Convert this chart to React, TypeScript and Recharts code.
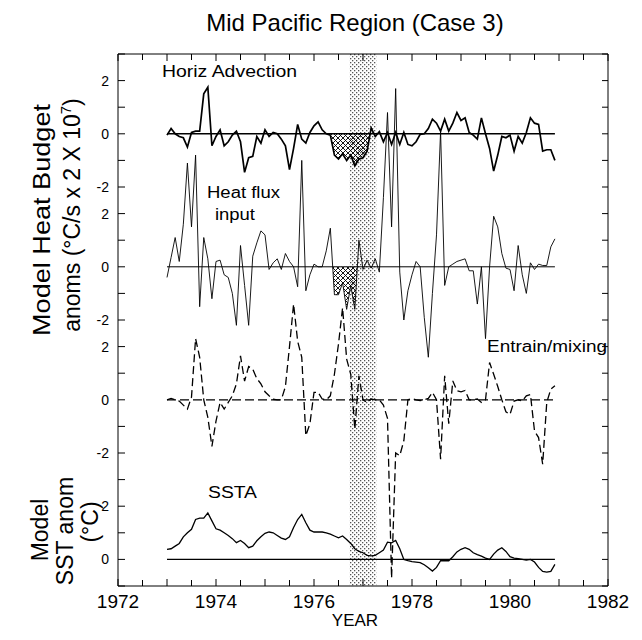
import React from 'react';
import { ComposedChart, Line, Area, XAxis, YAxis, ReferenceArea, ReferenceLine } from 'recharts';

// Monthly model heat budget anomalies, Jan 1973 .. Dec 1980
const START_YEAR = 1973;

const HORIZ_ADVECTION = [
  -0.05, 0.2, 0.0, -0.1, -0.15, -0.5, 0.05, 0.1, 0.1, 1.5,
  1.75, -0.45, -0.1, 0.15, -0.45, -0.3, -0.05, 0.1, -0.3, -1.45,
  -0.9, -0.85, -0.1, -0.35, 0.15, -0.1, 0.05, 0.0, -0.2, -0.45,
  -1.35, -0.55, 0.35, -0.2, -0.35, 0.05, 0.3, 0.45, 0.15, 0.0,
  -0.05, -0.8, -0.95, -0.75, -1.0, -0.8, -1.2, -0.95, -0.9, -0.65,
  0.22, -0.1, 0.08, -0.3, 0.05, -0.4, 0.05, -0.4, 0.05, -0.4,
  -0.45, -0.3, -0.02, 0.0, 0.2, 0.55, 0.4, 0.1, 0.55, 0.1,
  0.4, 0.8, 0.5, 0.6, 0.05, -0.05, -0.2, 0.6, 0.0, -0.55,
  -1.4, -0.8, -0.1, -0.15, -0.05, -0.65, -0.1, -0.35, 0.05, 0.6,
  0.4, 0.35, -0.65, -0.6, -0.6, -1.0,
];

const HEAT_FLUX = [
  -0.4, 0.35, 1.1, 0.2, 1.6, 3.9, 1.5, 4.2, -1.5, 1.1,
  0.3, -1.2, 0.2, 0.25, -0.3, -0.4, -1.0, -2.2, 0.8, -0.7,
  -2.2, 0.4, 0.9, 1.35, 1.2, -0.1, 0.15, 0.3, -0.1, 0.5,
  0.2, 0.0, -0.75, 4.0, -0.9, -0.3, 0.1, 0.0, 0.0, 0.6,
  1.45, -1.05, -1.05, -0.6, -1.6, -0.7, -1.6, 1.0, -0.1, 0.25,
  -0.05, 0.3, -0.2, 2.6, 5.8, 1.5, 6.7, -0.2, -2.0, -0.9,
  -0.3, 0.2, 0.0, -1.9, -3.4, -1.0, 1.2, 5.1, -0.7, 0.0,
  0.1, 0.2, 0.25, 0.3, -0.15, -0.15, -1.4, 0.0, -2.7, 0.0,
  1.9, 1.5, 0.5, -0.05, -0.1, -0.9, 0.8, -0.3, -1.0, 0.15,
  -0.1, 0.1, 0.05, 0.05, 0.75, 1.05,
];

const ENTRAIN_MIXING = [
  0.0, 0.05, 0.0, -0.05, -0.2, -0.35, 0.1, 2.3, 1.6, 0.0,
  -0.66, -1.75, -0.8, -0.1, -0.35, -0.1, 0.15, 0.6, 1.65, 0.7,
  1.25, 1.15, 0.8, 0.6, 0.3, 0.15, 0.02, 0.0, 0.0, 0.5,
  2.0, 3.6, 2.2, 1.6, -1.35, -0.9, 0.28, 0.28, 0.03, 0.0,
  0.15, 0.96, 2.1, 3.46, 1.53, 0.96, -1.1, 0.9, 0.0, -0.1,
  0.03, 0.0, 0.0, -0.2, -0.7, -6.7, -2.0, -2.1, -1.54, 0.0,
  0.05, 0.0, -0.03, 0.0, 0.05, 0.28, 0.0, -2.23, 0.9, -0.9,
  0.71, 0.34, 0.3, 0.35, 0.0, 0.0, 0.03, -0.1, 0.0, 1.4,
  0.96, 0.5, 0.0, -0.45, -0.55, -0.05, 0.0, -0.05, 0.15, 0.2,
  -1.17, -1.42, -2.42, -0.1, 0.4, 0.53,
];

const SSTA = [
  0.38, 0.4, 0.5, 0.6, 0.85, 1.0, 1.13, 1.5, 1.55, 1.55,
  1.75, 1.45, 1.15, 1.1, 1.0, 0.9, 0.78, 0.63, 0.71, 0.6,
  0.44, 0.5, 0.7, 0.85, 0.98, 1.03, 1.0, 0.9, 0.8, 0.75,
  0.85, 1.2, 1.5, 1.69, 1.38, 1.1, 1.03, 1.03, 1.03, 1.0,
  0.95, 0.88, 0.81, 0.88, 0.75, 0.6, 0.4, 0.3, 0.25, 0.15,
  0.13, 0.15, 0.25, 0.35, 0.65, 0.62, 0.71, 0.4, 0.0, -0.05,
  -0.08, -0.1, -0.12, -0.2, -0.31, -0.44, -0.3, -0.05, -0.05, -0.05,
  0.1, 0.28, 0.38, 0.44, 0.38, 0.25, 0.18, 0.12, 0.05, 0.0,
  0.2, 0.35, 0.44, 0.3, 0.1, 0.05, 0.03, 0.0, -0.03, 0.0,
  -0.1, -0.3, -0.45, -0.48, -0.45, -0.19,
];

// x axis
const X_DOMAIN = [1972, 1982];
const X_TICKS = [1972, 1972.5, 1973, 1973.5, 1974, 1974.5, 1975, 1975.5, 1976, 1976.5, 1977, 1977.5, 1978, 1978.5, 1979, 1979.5, 1980, 1980.5, 1981, 1981.5, 1982];
const X_LABELED = [1972, 1974, 1976, 1978, 1980, 1982];

// stacked panels share one vertical scale; each panel's zero sits at its baseline
const BASE_HORIZ = 16;
const BASE_HEAT = 11;
const BASE_ENTRAIN = 6;
const BASE_SSTA = 0;
const Y_DOMAIN = [-1, 19];
const Y_TICKS = [-1, 0, 1, 2, 3, 4, 5, 6, 7, 8, 9, 10, 11, 12, 13, 14, 15, 16, 17, 18, 19];
const Y_TICK_LABELS: Record<number, string> = {
  0: '0', 2: '2', 4: '-2', 6: '0', 8: '2', 9: '-2', 11: '0', 13: '2', 14: '-2', 16: '0', 18: '2',
};

// El Nino event band and cross-hatched windows (month indices)
const EVENT_BAND = [1976.73, 1977.27];
const HATCH_HORIZ = [39, 50];
const HATCH_HEAT = [40, 47];

const FONT = '"Liberation Sans", Arial, Helvetica, sans-serif';

const monthX = (i: number) => START_YEAR + i / 12;
const toSeries = (vals: number[], base: number) => vals.map((v, i) => ({ x: monthX(i), y: v + base }));

function hatchSeries(vals: number[], from: number, to: number, base: number) {
  const pts: { x: number; y: number }[] = [];
  for (let i = from; i <= to; i++) {
    const v = vals[i];
    if (i > from) {
      const pv = vals[i - 1];
      if ((pv < 0 && v > 0) || (pv > 0 && v < 0)) {
        const t = pv / (pv - v);
        pts.push({ x: monthX(i - 1) + t / 12, y: base });
      }
    }
    pts.push({ x: monthX(i), y: base + Math.min(v, 0) });
  }
  return pts;
}

const horizData = toSeries(HORIZ_ADVECTION, BASE_HORIZ);
const heatData = toSeries(HEAT_FLUX, BASE_HEAT);
const entrainData = toSeries(ENTRAIN_MIXING, BASE_ENTRAIN);
const sstaData = toSeries(SSTA, BASE_SSTA);
const horizHatch = hatchSeries(HORIZ_ADVECTION, HATCH_HORIZ[0], HATCH_HORIZ[1], BASE_HORIZ);
const heatHatch = hatchSeries(HEAT_FLUX, HATCH_HEAT[0], HATCH_HEAT[1], BASE_HEAT);
const firstX = monthX(0);
const lastX = monthX(HORIZ_ADVECTION.length - 1);

const BottomTick = (props: any) => {
  const { x, y, payload } = props;
  const v = payload.value;
  const major = Number.isInteger(v);
  return (
    <g>
      <line x1={x} x2={x} y1={y} y2={y - (major ? 7 : 6)} stroke="#000" strokeWidth={1} />
      {X_LABELED.includes(v) && (
        <text x={x} y={y + 22} textAnchor="middle" fontSize={19} fontFamily={FONT} fill="#000">{v}</text>
      )}
    </g>
  );
};

const TopTick = (props: any) => {
  const { x, y, payload } = props;
  const major = Number.isInteger(payload.value);
  return <line x1={x} x2={x} y1={y} y2={y + (major ? 7 : 6)} stroke="#000" strokeWidth={1} />;
};

const LeftTick = (props: any) => {
  const { x, y, payload } = props;
  const label = Y_TICK_LABELS[payload.value];
  return (
    <g>
      <line x1={x} x2={x + 7} y1={y} y2={y} stroke="#000" strokeWidth={1} />
      {label !== undefined && (
        <text x={x - 9} y={y + 5} textAnchor="end" fontSize={14} fontFamily={FONT} fill="#000">{label}</text>
      )}
    </g>
  );
};

const RightTick = (props: any) => {
  const { x, y } = props;
  return <line x1={x} x2={x - 6} y1={y} y2={y} stroke="#000" strokeWidth={1} />;
};

export default function App() {
  const W = 626;
  const H = 624;
  return (
    <div style={{ position: 'relative', width: W, height: H, background: '#fff' }}>
      <ComposedChart width={W} height={H} margin={{ top: 36, right: 16, left: 0, bottom: 0 }}>
        <defs>
          <pattern id="stipple" width="4" height="4" patternUnits="userSpaceOnUse">
            <rect width="4" height="4" fill="#fff" />
            <rect x="0" y="0" width="1.3" height="1.3" fill="#555" />
            <rect x="2" y="2" width="1.3" height="1.3" fill="#555" />
          </pattern>
          <pattern id="xhatch" width="5" height="5" patternUnits="userSpaceOnUse">
            <path d="M0,0 L5,5 M5,0 L0,5" stroke="#000" strokeWidth="0.9" />
          </pattern>
        </defs>
        <XAxis
          dataKey="x"
          type="number"
          domain={X_DOMAIN}
          ticks={X_TICKS}
          interval={0}
          height={46}
          tickSize={0}
          tickMargin={0}
          tickLine={false}
          axisLine={{ stroke: '#000', strokeWidth: 1 }}
          tick={<BottomTick />}
          allowDataOverflow
        />
        <XAxis
          xAxisId="top"
          orientation="top"
          dataKey="x"
          type="number"
          domain={X_DOMAIN}
          ticks={X_TICKS}
          interval={0}
          height={10}
          tickSize={0}
          tickMargin={0}
          tickLine={false}
          axisLine={{ stroke: '#000', strokeWidth: 1 }}
          tick={<TopTick />}
          allowDataOverflow
        />
        <YAxis
          type="number"
          domain={Y_DOMAIN}
          ticks={Y_TICKS}
          interval={0}
          width={110}
          tickSize={0}
          tickMargin={0}
          tickLine={false}
          axisLine={{ stroke: '#000', strokeWidth: 1 }}
          tick={<LeftTick />}
          allowDataOverflow
        />
        <YAxis
          yAxisId="right"
          orientation="right"
          type="number"
          domain={Y_DOMAIN}
          ticks={Y_TICKS}
          interval={0}
          width={10}
          tickSize={0}
          tickMargin={0}
          tickLine={false}
          axisLine={{ stroke: '#000', strokeWidth: 1 }}
          tick={<RightTick />}
          allowDataOverflow
        />
        <ReferenceArea x1={EVENT_BAND[0]} x2={EVENT_BAND[1]} y1={Y_DOMAIN[0]} y2={Y_DOMAIN[1]} fill="url(#stipple)" fillOpacity={1} stroke="none" />
        <Area data={horizHatch} dataKey="y" type="linear" baseValue={BASE_HORIZ} stroke="none" fill="url(#xhatch)" fillOpacity={1} isAnimationActive={false} dot={false} activeDot={false} />
        <Area data={heatHatch} dataKey="y" type="linear" baseValue={BASE_HEAT} stroke="none" fill="url(#xhatch)" fillOpacity={1} isAnimationActive={false} dot={false} activeDot={false} />
        <ReferenceLine segment={[{ x: firstX, y: BASE_HORIZ }, { x: lastX, y: BASE_HORIZ }]} stroke="#000" strokeWidth={1.6} />
        <ReferenceLine segment={[{ x: firstX, y: BASE_HEAT }, { x: lastX, y: BASE_HEAT }]} stroke="#000" strokeWidth={1} />
        <ReferenceLine segment={[{ x: firstX, y: BASE_ENTRAIN }, { x: lastX, y: BASE_ENTRAIN }]} stroke="#000" strokeWidth={1.2} strokeDasharray="9 4" />
        <ReferenceLine segment={[{ x: firstX, y: BASE_SSTA }, { x: lastX, y: BASE_SSTA }]} stroke="#000" strokeWidth={1.2} />
        <Line data={horizData} dataKey="y" type="linear" stroke="#000" strokeWidth={1.7} dot={false} activeDot={false} isAnimationActive={false} />
        <Line data={heatData} dataKey="y" type="linear" stroke="#000" strokeWidth={0.9} dot={false} activeDot={false} isAnimationActive={false} />
        <Line data={entrainData} dataKey="y" type="linear" stroke="#000" strokeWidth={1.3} strokeDasharray="8 4" dot={false} activeDot={false} isAnimationActive={false} />
        <Line data={sstaData} dataKey="y" type="linear" stroke="#000" strokeWidth={1.3} dot={false} activeDot={false} isAnimationActive={false} />
      </ComposedChart>
      <svg width={W} height={H} style={{ position: 'absolute', left: 0, top: 0, pointerEvents: 'none' }} fontFamily={FONT} fill="#000">
        <text x={347} y={23} textAnchor="middle" fontSize={24}>Mid Pacific Region (Case 3)</text>
        <text x={154} y={69} fontSize={16} textLength={135} lengthAdjust="spacingAndGlyphs">Horiz Advection</text>
        <text x={199} y={190} fontSize={16} textLength={73} lengthAdjust="spacingAndGlyphs">Heat flux</text>
        <text x={207} y={212} fontSize={16} textLength={40} lengthAdjust="spacingAndGlyphs">input</text>
        <text x={479} y={344} fontSize={16} textLength={120} lengthAdjust="spacingAndGlyphs">Entrain/mixing</text>
        <text x={200} y={490} fontSize={16} textLength={49} lengthAdjust="spacingAndGlyphs">SSTA</text>
        <text x={347} y={618} textAnchor="middle" fontSize={17}>YEAR</text>
        <text transform="translate(42,212) rotate(-90)" textAnchor="middle" fontSize={24} textLength={232} lengthAdjust="spacingAndGlyphs">Model Heat Budget</text>
        <text transform="translate(72,207) rotate(-90)" textAnchor="middle" fontSize={23}>
          anoms (°C/s x 2 X 10<tspan dy={-9} fontSize={15}>7</tspan><tspan dy={9}>)</tspan>
        </text>
        <text transform="translate(40,522) rotate(-90)" textAnchor="middle" fontSize={23}>Model</text>
        <text transform="translate(65,523) rotate(-90)" textAnchor="middle" fontSize={23}>SST anom</text>
        <text transform="translate(90,514) rotate(-90)" textAnchor="middle" fontSize={23}>(°C)</text>
      </svg>
    </div>
  );
}
